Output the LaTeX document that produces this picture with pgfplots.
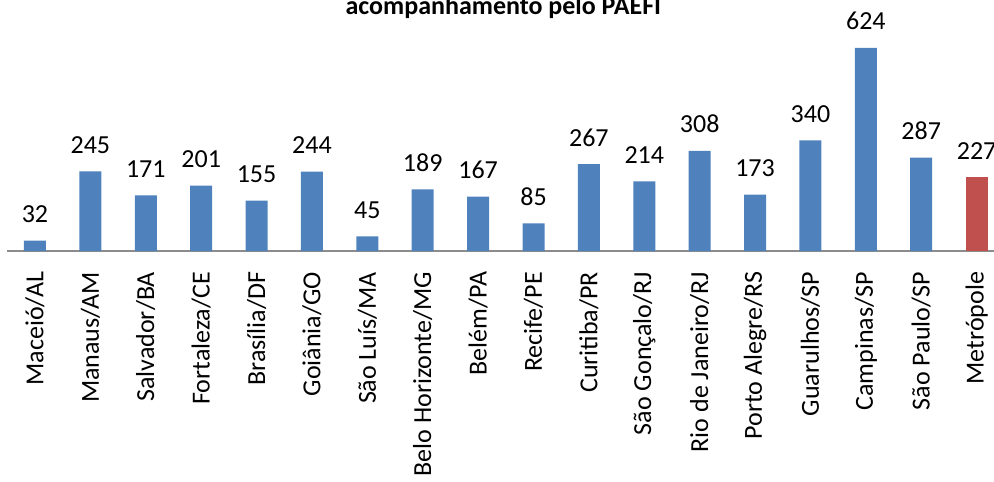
\documentclass[border=0pt]{standalone}
\usepackage{pgfplots}
\pgfplotsset{compat=1.18}
\usepackage{fontspec}
\setmainfont{Carlito}
\definecolor{barblue}{HTML}{4F81BD}
\definecolor{barred}{HTML}{C0504D}
\definecolor{axgray}{HTML}{8C8C8C}
\begin{document}
\begin{tikzpicture}
\begin{axis}[
  scale only axis,
  width=498.5pt, height=113.9pt,
  xmin=-0.5, xmax=17.5, ymin=0, ymax=700,
  enlarge x limits=false,
  hide y axis,
  axis x line*=bottom,
  x axis line style={draw=axgray, line width=1pt},
  xtick={0,...,17},
  xtick style={draw=none},
  xticklabels={Maceió/AL,Manaus/AM,Salvador/BA,Fortaleza/CE,Brasília/DF,Goiânia/GO,São Luís/MA,Belo Horizonte/MG,Belém/PA,Recife/PE,Curitiba/PR,São Gonçalo/RJ,Rio de Janeiro/RJ,Porto Alegre/RS,Guarulhos/SP,Campinas/SP,São Paulo/SP,Metrópole},
  xticklabel style={rotate=90, anchor=east, inner xsep=6pt, inner ysep=0pt, font=\fontsize{13}{15}\selectfont},
  ybar, bar width=11pt, bar shift=0pt,
  clip=false,
  nodes near coords,
  every node near coord/.append style={font=\fontsize{13}{15}\selectfont, anchor=base, yshift=9pt, inner sep=0pt},
  /pgf/number format/assume math mode=true,
]
\addplot[fill=barblue, draw=none] coordinates {
(0,32) (1,245) (2,171) (3,201) (4,155) (5,244) (6,45) (7,189) (8,167)
(9,85) (10,267) (11,214) (12,308) (13,173) (14,340) (15,624) (16,287)};
\addplot[fill=barred, draw=none] coordinates {(17,227)};
\end{axis}
\node[anchor=base, font=\bfseries\fontsize{13}{16}\selectfont] at (248pt,118pt) {acompanhamento pelo PAEFI};
\pgfresetboundingbox
\path[use as bounding box] (-3.65pt,-115pt) rectangle (493.35pt,125.5pt);
\end{tikzpicture}
\end{document}
